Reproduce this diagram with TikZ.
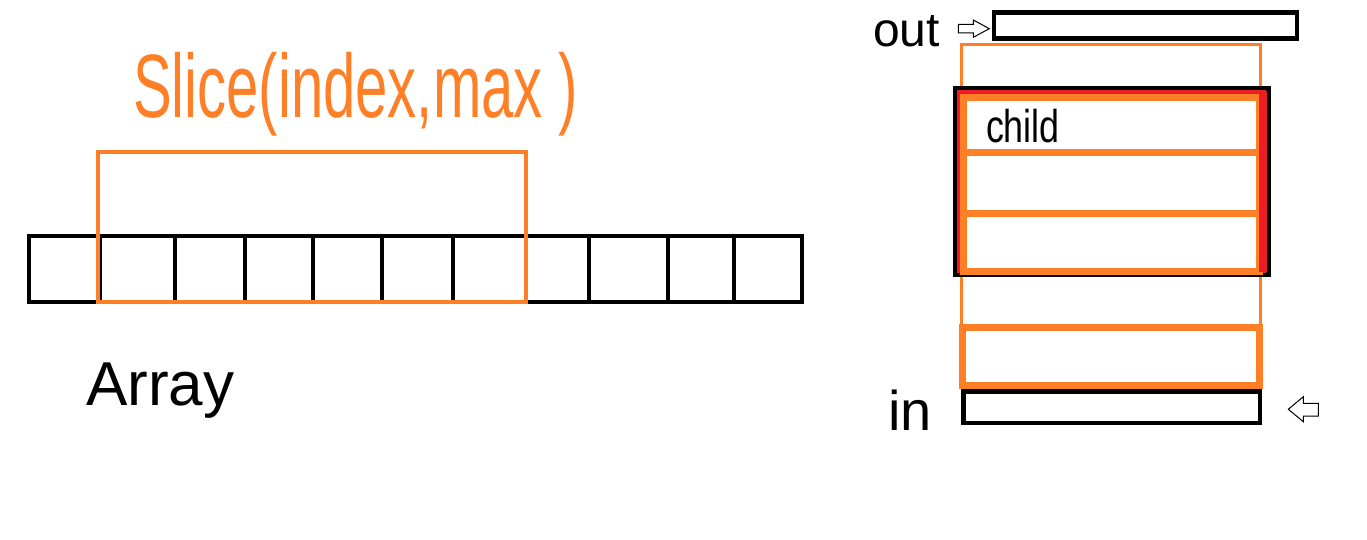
\documentclass[tikz,border=0pt]{standalone}
\usepackage{fontspec}
\setmainfont{Liberation Sans}
\usepackage{graphicx}
\definecolor{paintorange}{RGB}{255,127,39}
\definecolor{paintred}{RGB}{237,28,36}
\tikzset{
  box/.style={draw=black, line width=4.5pt, inner sep=0pt, outer sep=0pt, anchor=north west, fill=white},
  cell/.style={box, minimum height=66pt},
  obox/.style={draw=paintorange, line width=7pt, inner sep=0pt, outer sep=0pt, anchor=north west, fill=white},
  thinorange/.style={draw=paintorange, line width=2.5pt, inner sep=0pt, outer sep=0pt, anchor=north west},
  hand/.style={inner sep=0pt, outer sep=0pt, anchor=base west, text=black},
  hollow/.style={draw=black, line width=1pt, fill=white, line join=miter}
}
\begin{document}
\begin{tikzpicture}[x=1pt,y=-1pt]
\useasboundingbox (0,0) rectangle (1367,540);
% ---------- Array ----------
\node[cell, minimum width=71pt] (a1) at (29,236) {};
\node[cell, minimum width=75pt] (a2) at (100,236) {};
\node[cell, minimum width=70pt] (a3) at (175,236) {};
\node[cell, minimum width=68pt] (a4) at (245,236) {};
\node[cell, minimum width=69pt] (a5) at (313,236) {};
\node[cell, minimum width=71pt] (a6) at (382,236) {};
\node[cell, minimum width=73pt] (a7) at (453,236) {};
\node[cell, minimum width=63pt] (a8) at (526,236) {};
\node[cell, minimum width=79pt] (a9) at (589,236) {};
\node[cell, minimum width=66pt] (a10) at (668,236) {};
\node[cell, minimum width=68pt] (a11) at (734,236) {};
% slice frame
\node[draw=paintorange, line width=4pt, inner sep=0pt, outer sep=0pt, anchor=north west,
      minimum width=428pt, minimum height=150pt] (slice) at (98,152) {};
% labels
\node[hand, text=paintorange, font=\fontsize{90}{90}\selectfont] (slicelabel) at (133,118)
  {\scalebox{0.645}[1]{Slice(index,max )}};
\node[hand, font=\fontsize{62}{62}\selectfont] (arraylabel) at (86,405) {Array};
% ---------- Stack / queue ----------
\node[box, minimum width=303pt, minimum height=26pt] (outbox) at (994,12.5) {};
\node[thinorange, minimum width=299pt, minimum height=341pt] (frame) at (961.3,44.7) {};
\node[box, fill=paintred, minimum width=313.7pt, minimum height=187pt] (blk) at (955,88) {};
\node[obox, minimum width=296pt, minimum height=55pt] (b1) at (963,98) {};
\node[obox, minimum width=296pt, minimum height=60pt] (b2) at (963,153) {};
\node[obox, minimum width=296pt, minimum height=58pt] (b3) at (963,213) {};
\node[fill=paintred, inner sep=0pt, outer sep=0pt, anchor=north west,
      minimum width=8.5pt, minimum height=181pt] (redbar) at (1258.5,91) {};
\node[obox, minimum width=297pt, minimum height=58pt] (b4) at (962,327) {};
\node[box, minimum width=296.5pt, minimum height=31.3pt] (inbox) at (963.5,391.7) {};
\node[hand, font=\fontsize{46}{46}\selectfont] (childlabel) at (986,143) {\scalebox{0.78}[1]{child}};
\node[hand, font=\fontsize{48}{48}\selectfont] (outlabel) at (873,47) {out};
\node[hand, font=\fontsize{56}{56}\selectfont] (inlabel) at (888,430) {in};
% hollow arrows
\draw[hollow] (958.3,24.5) -- (973.3,24.5) -- (973.3,20) -- (989.3,28.7) -- (973.3,37.3)
  -- (973.3,33) -- (958.3,33) -- cycle;
\draw[hollow] (1318.3,403.3) -- (1303.3,403.3) -- (1303.3,396.7) -- (1288.3,409.3)
  -- (1303.3,421.7) -- (1303.3,416) -- (1318.3,416) -- cycle;
\end{tikzpicture}
\end{document}
